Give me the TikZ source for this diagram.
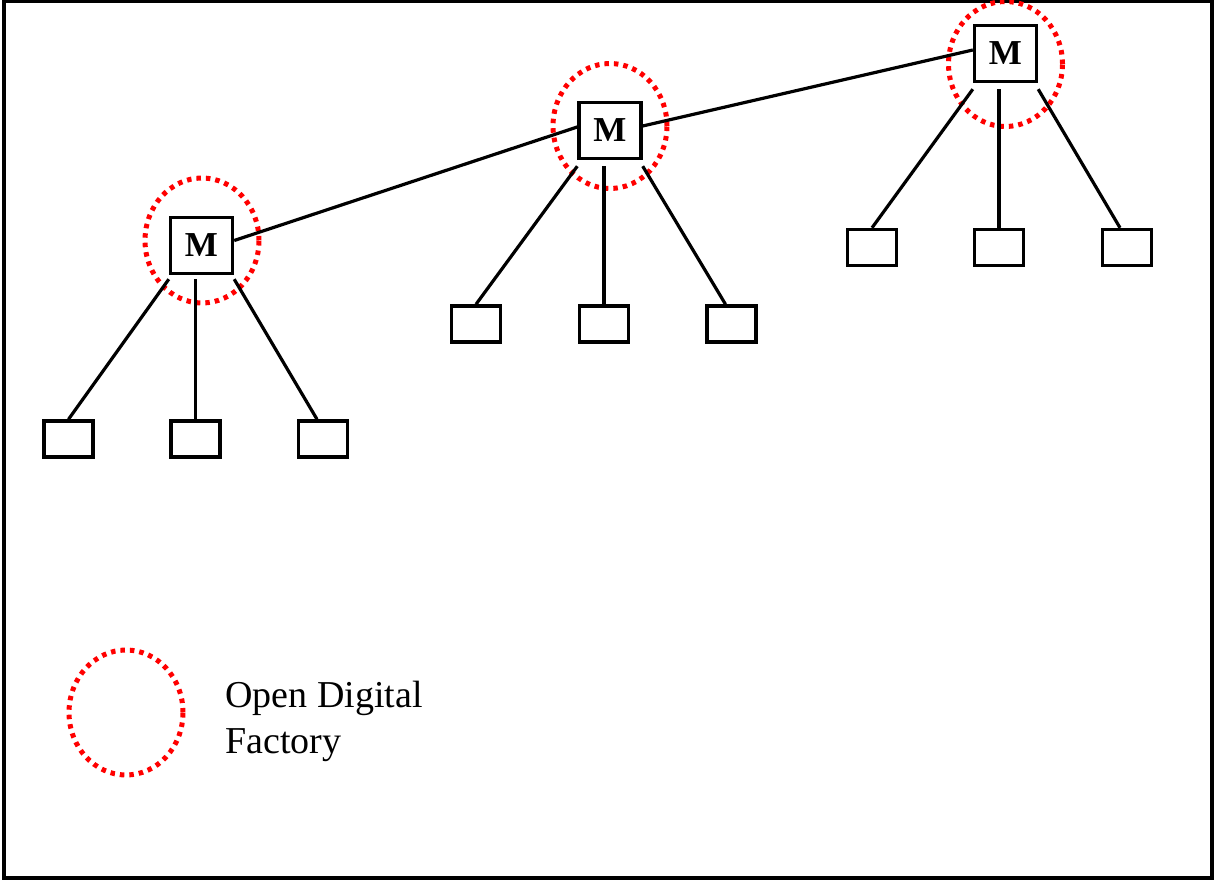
\documentclass[tikz,border=0pt]{standalone}
\usepackage{fontspec}
\setmainfont{Liberation Serif}
\usetikzlibrary{shapes.geometric}
\definecolor{odfred}{RGB}{255,0,0}
\tikzset{
  master/.style={draw, line width=3.4pt, minimum width=62pt, minimum height=56pt,
    inner sep=0pt, font=\fontsize{35}{38}\selectfont\bfseries},
  machine/.style={draw, line width=3.4pt, minimum width=49pt, minimum height=36pt, inner sep=0pt},
  link/.style={line width=3.2pt},
  factory/.style={draw=odfred, line width=5pt, dash pattern=on 4.5pt off 5pt,
    ellipse, minimum width=114pt, minimum height=125pt, inner sep=0pt},
  frame/.style={line width=3.4pt}
}
\begin{document}
\begin{tikzpicture}[x=1pt,y=-1pt]
\useasboundingbox (0,0) rectangle (1217,882);
\draw[frame] (4,1) rectangle (1212,878);

% master machines
\node[master] (m1) at (201.5,245.5) {M};
\node[master] (m2) at (610,130.5) {M};
\node[master] (m3) at (1005.5,53.5) {M};

% open digital factory boundaries
\node[factory] (f1) at (202,240.5) {};
\node[factory] (f2) at (610,126) {};
\node[factory] (f3) at (1005.5,64) {};

% machines of each factory
\node[machine] (a1) at (68.5,439) {};
\node[machine] (a2) at (195.5,439) {};
\node[machine] (a3) at (323,439) {};
\node[machine] (b1) at (476,324) {};
\node[machine] (b2) at (604,324) {};
\node[machine] (b3) at (731.5,324) {};
\node[machine] (c1) at (872,247.5) {};
\node[machine] (c2) at (999,247.5) {};
\node[machine] (c3) at (1127,247.5) {};

% attachment points below the masters
\coordinate (m1l) at ([yshift=-4pt]m1.south west);
\coordinate (m1m) at ([xshift=-6pt,yshift=-4pt]m1.south);
\coordinate (m1r) at ([yshift=-4pt]m1.south east);
\coordinate (m2l) at ([yshift=-6pt]m2.south west);
\coordinate (m2m) at ([xshift=-6pt,yshift=-6pt]m2.south);
\coordinate (m2r) at ([yshift=-6pt]m2.south east);
\coordinate (m3l) at ([yshift=-6pt]m3.south west);
\coordinate (m3m) at ([xshift=-6.5pt,yshift=-6pt]m3.south);
\coordinate (m3r) at ([yshift=-6pt]m3.south east);

\draw[link] (m1l) -- (a1.north);
\draw[link] (m1m) -- (a2.north);
\draw[link] (m1r) -- ([xshift=-6pt]a3.north);
\draw[link] (m2l) -- (b1.north);
\draw[link] (m2m) -- (b2.north);
\draw[link] (m2r) -- ([xshift=-6pt]b3.north);
\draw[link] (m3l) -- (c1.north);
\draw[link] (m3m) -- (c2.north);
\draw[link] (m3r) -- ([xshift=-7pt]c3.north);

% links between the masters
\draw[link] ([yshift=5pt]m1.east) -- ([yshift=3.5pt]m2.west);
\draw[link] ([yshift=4.5pt]m2.east) -- ([yshift=3.5pt]m3.west);

% legend
\node[factory] (lg) at (126,712.5) {};
\node[anchor=west, align=left, font=\fontsize{38}{46}\selectfont] (lgt) at (222,721) {Open Digital\\Factory};
\end{tikzpicture}
\end{document}
